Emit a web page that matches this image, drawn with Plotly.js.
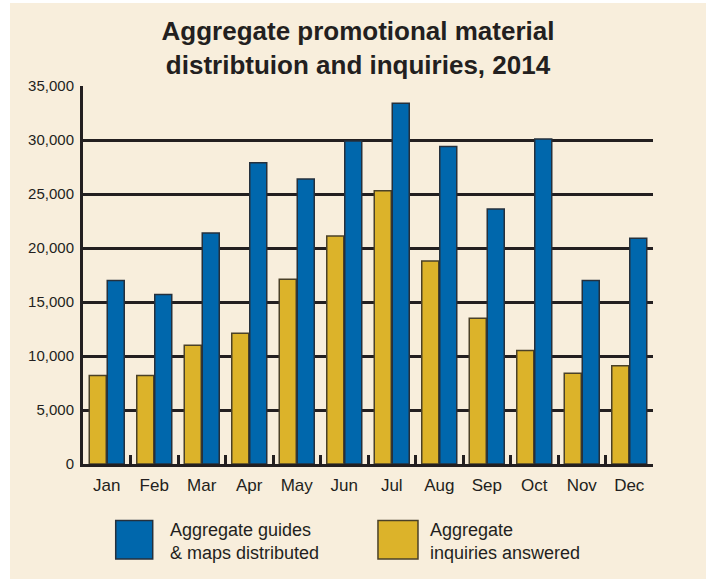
<!DOCTYPE html>
<html>
<head>
<meta charset="utf-8">
<script src="https://cdn.plot.ly/plotly-3.0.1.min.js"></script>
<style>
  html, body { margin: 0; padding: 0; background: #ffffff; }
  #chart { position: absolute; left: 10px; top: 3px; width: 696px; height: 576px; }
</style>
</head>
<body>
<div id="chart"></div>
<script>
const months = ["Jan","Feb","Mar","Apr","May","Jun","Jul","Aug","Sep","Oct","Nov","Dec"];
const guidesDistributed = [17000, 15700, 21400, 27900, 26400, 29900, 33400, 29400, 23600, 30100, 17000, 20900];
const inquiriesAnswered = [8200, 8200, 11000, 12100, 17100, 21100, 25300, 18800, 13500, 10500, 8400, 9100];
const seriesNames = ["Aggregate guides<br>& maps distributed", "Aggregate<br>inquiries answered"];
const yTickVals = [0, 5000, 10000, 15000, 20000, 25000, 30000, 35000];
const yTickText = ["0", "5,000", "10,000", "15,000", "20,000", "25,000", "30,000", "35,000"];

const BLUE = "#0067ac";
const GOLD = "#dcb32a";
const INK = "#231f20";
const CREAM = "#f8eedc";

const traces = [
  {
    type: "bar", name: "Aggregate inquiries answered", x: months, y: inquiriesAnswered,
    marker: { color: GOLD, line: { color: "#4a4128", width: 1.5 } },
    showlegend: false, hoverinfo: "x+y"
  },
  {
    type: "bar", name: "Aggregate guides & maps distributed", x: months, y: guidesDistributed,
    marker: { color: BLUE, line: { color: "#25303c", width: 1.5 } },
    showlegend: false, hoverinfo: "x+y"
  }
];

const sw = { y0: -0.2513, y1: -0.1492 };
const layout = {
  width: 696, height: 576,
  paper_bgcolor: CREAM, plot_bgcolor: CREAM,
  margin: { l: 73, r: 53, t: 83, b: 115 },
  font: { family: "Liberation Sans, Arial, sans-serif", color: INK },
  title: {
    text: "<b>Aggregate promotional material<br>distribtuion and inquiries, 2014</b>",
    font: { size: 26, color: INK, family: "Liberation Sans, Arial, sans-serif" },
    x: 0.5, xanchor: "center", y: 0.935, yanchor: "top"
  },
  barmode: "group", bargap: 0.242, bargroupgap: 0.056,
  xaxis: {
    type: "category", range: [-0.5, 11.5], fixedrange: true,
    showline: true, linewidth: 3, linecolor: INK,
    ticks: "inside", tickson: "boundaries", ticklen: 9, tickwidth: 3, tickcolor: INK,
    tickfont: { size: 17, color: INK }, showgrid: false, ticklabelstandoff: 4
  },
  yaxis: {
    range: [0, 35000], fixedrange: true,
    tickvals: yTickVals, ticktext: yTickText,
    showline: true, linewidth: 3, linecolor: INK,
    showgrid: true, gridcolor: INK, gridwidth: 3, zeroline: false,
    tickfont: { size: 15, color: INK }, ticks: "", ticklabelstandoff: 3
  },
  shapes: [
    { type: "rect", xref: "paper", yref: "paper", x0: 0.0574, x1: 0.1223, y0: sw.y0, y1: sw.y1,
      fillcolor: BLUE, line: { color: "#25303c", width: 1.5 } },
    { type: "rect", xref: "paper", yref: "paper", x0: 0.5175, x1: 0.5877, y0: sw.y0, y1: sw.y1,
      fillcolor: GOLD, line: { color: "#4a4128", width: 1.5 } }
  ],
  annotations: [
    { xref: "paper", yref: "paper", x: 0.149, y: -0.204, xanchor: "left", yanchor: "middle",
      text: seriesNames[0], showarrow: false, align: "left", font: { size: 18, color: INK } },
    { xref: "paper", yref: "paper", x: 0.605, y: -0.204, xanchor: "left", yanchor: "middle",
      text: seriesNames[1], showarrow: false, align: "left", font: { size: 18, color: INK } }
  ]
};

Plotly.newPlot("chart", traces, layout, { displayModeBar: false, staticPlot: false });
</script>
</body>
</html>
